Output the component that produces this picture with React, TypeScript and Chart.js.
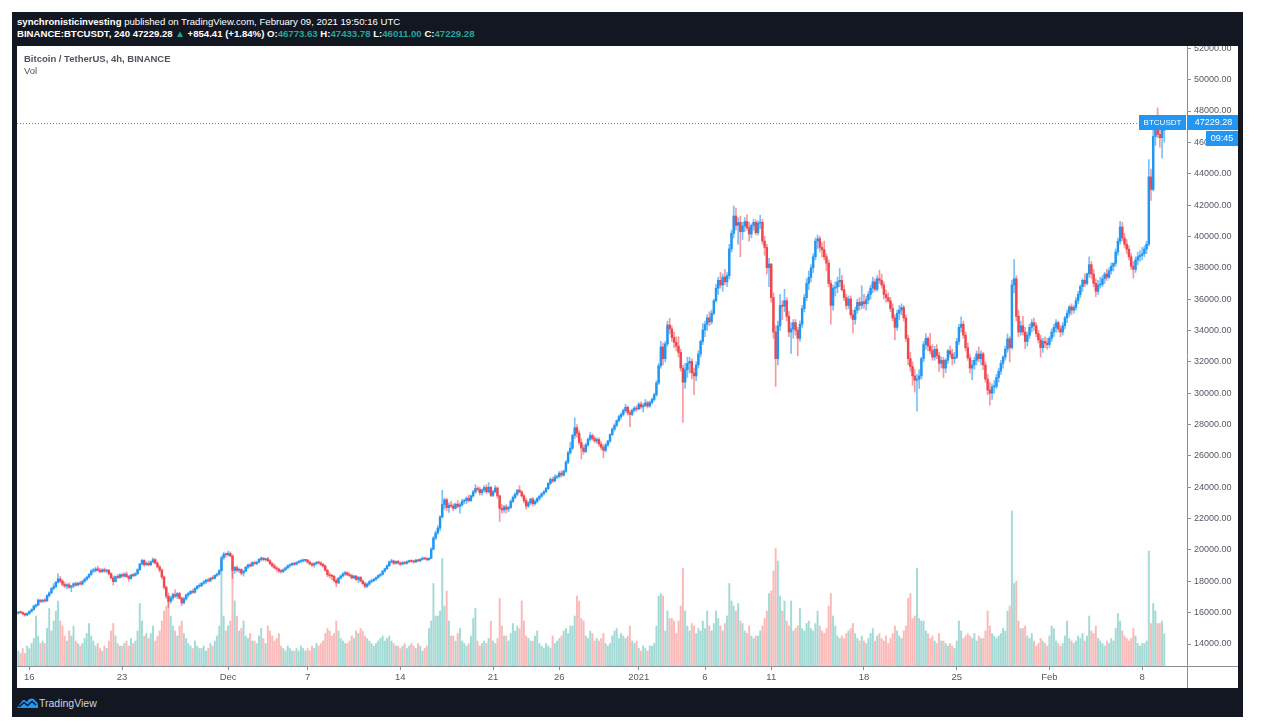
import React, { useEffect, useRef } from "react";
import { Chart, registerables } from "chart.js";

Chart.register(...registerables);

// 4h candles [open, high, low, close], BINANCE:BTCUSDT, from Nov 15 04:00 to Feb 9 16:00 (UTC)
const candlesNov: number[][] = [
  [15960,16080,15900,16030],[16030,16100,15960,16010],[16010,16040,15870,15920],[15920,15980,15780,15850],[15850,15990,15800,15960],
  [15960,16120,15870,16080],[16080,16250,16020,16190],[16190,16490,16150,16420],[16420,16540,16300,16480],[16480,16880,16450,16800],[16800,16850,16620,16720],
  [16720,16850,16650,16790],[16790,16900,16680,16750],[16750,17150,16720,17080],[17080,17330,17000,17260],[17260,17600,17200,17540],[17540,17860,17450,17660],
  [17660,18000,17600,17930],[17930,18480,17880,18150],[18150,18300,17900,18010],[18010,18100,17700,17800],[17800,17950,17600,17700],[17700,17850,17520,17780],
  [17780,17900,17550,17620],[17620,17750,17340,17700],[17700,17900,17600,17850],[17850,17950,17680,17760],[17760,17940,17700,17880],[17880,18000,17780,17820],
  [17820,18050,17750,17990],[17990,18200,17930,18130],[18130,18320,18050,18260],[18260,18500,18200,18430],[18430,18750,18380,18650],[18650,18820,18550,18680],
  [18680,18900,18600,18790],[18790,18960,18650,18700],[18700,18820,18550,18620],[18620,18800,18560,18740],[18740,18850,18580,18650],[18650,18780,18550,18700],
  [18700,18760,18400,18480],[18480,18550,18150,18220],[18220,18350,17750,17980],[17980,18350,17950,18300],[18300,18420,18150,18250],[18250,18480,18180,18420],
  [18420,18500,18250,18330],[18330,18550,18280,18460],[18460,18600,18250,18300],[18300,18380,18000,18180],[18180,18450,18120,18400],[18400,18500,18280,18370],
  [18370,18560,18320,18480],[18480,18800,18430,18740],[18740,19150,18700,19100],[19100,19420,19050,19330],[19330,19380,18950,19060],[19060,19250,19000,19150],
  [19150,19300,18980,19050],[19050,19300,19000,19240],[19240,19490,19180,19380],[19380,19450,19100,19160],[19160,19250,18850,18920],[18920,19000,18580,18720],
  [18720,18800,18150,18280],[18280,18350,17500,17620],[17620,17700,16900,17050],[17050,17250,16330,16720],[16720,17050,16600,16930],[16930,17250,16800,17150],
  [17150,17450,16950,17060],[17060,17280,16900,17220],[17220,17300,16850,16930],[16930,17000,16440,16620],[16620,16980,16550,16880],[16880,17180,16800,17130],
  [17130,17300,17000,17220],[17220,17420,17150,17360],[17360,17500,17220,17300],[17300,17600,17250,17540],[17540,17750,17480,17680],[17680,17850,17600,17720],
  [17720,17920,17650,17880],[17880,18050,17800,17960],[17960,18120,17850,18080],[18080,18200,17950,18020],[18020,18250,17980,18190],[18190,18350,18100,18180],
  [18180,18420,18150,18380],[18380,18520,18300,18460],[18460,18750,18400,18680],[18680,19600,18650,19500],[19500,19860,19400,19720],[19720,19800,19550,19700],
];

const candlesDec: number[][] = [
  [19700,19920,19600,19780],[19780,19880,19550,19620],[19620,19700,18180,18700],[18700,18950,18500,18880],[18880,19000,18600,18700],[18700,18850,18550,18760],
  [18760,18800,18400,18520],[18520,18700,18330,18650],[18650,18950,18600,18900],[18900,19100,18800,19050],[19050,19150,18900,18980],[18980,19250,18950,19200],
  [19200,19300,19050,19130],[19130,19280,19050,19220],[19220,19450,19180,19400],[19400,19560,19300,19480],[19480,19520,19300,19380],[19380,19480,19280,19440],
  [19440,19530,19250,19310],[19310,19380,19050,19120],[19120,19200,18900,18980],[18980,19100,18800,18850],[18850,18950,18650,18780],[18780,18850,18570,18650],
  [18650,18750,18500,18620],[18620,18800,18560,18740],[18740,18900,18680,18860],[18860,19050,18800,18990],[18990,19100,18900,19060],[19060,19180,18980,19150],
  [19150,19220,19000,19080],[19080,19250,19050,19200],[19200,19330,19150,19260],[19260,19380,19180,19300],[19300,19420,19230,19340],[19340,19400,19250,19360],
  [19360,19390,19150,19220],[19220,19300,19050,19110],[19110,19200,18950,19030],[19030,19180,18900,19140],[19140,19260,19050,19200],[19200,19280,19100,19170],
  [19170,19250,19000,19080],[19080,19150,18900,18970],[18970,19050,18650,18700],[18700,18780,18300,18420],[18420,18550,18200,18350],[18350,18450,18100,18320],
  [18320,18380,17950,18050],[18050,18150,17650,17900],[17900,18250,17850,18200],[18200,18400,18150,18340],[18340,18550,18280,18470],[18470,18630,18380,18550],
  [18550,18600,18350,18420],[18420,18520,18280,18360],[18360,18450,18150,18220],[18220,18400,18150,18330],[18330,18380,18050,18120],[18120,18300,17910,18260],
  [18260,18300,17950,18020],[18020,18100,17780,17850],[17850,17950,17570,17680],[17680,17900,17600,17820],[17820,18050,17750,17980],[17980,18150,17900,18040],
  [18040,18200,17980,18130],[18130,18280,18050,18240],[18240,18420,18180,18370],[18370,18500,18300,18440],[18440,18700,18400,18650],[18650,18850,18580,18800],
  [18800,19050,18750,18990],[18990,19300,18950,19230],[19230,19410,19150,19300],[19300,19350,19080,19150],[19150,19300,19100,19260],[19260,19330,19100,19170],
  [19170,19250,19000,19090],[19090,19250,19050,19200],[19200,19280,19080,19140],[19140,19300,19100,19250],[19250,19350,19180,19310],[19310,19380,19220,19270],
  [19270,19350,19150,19230],[19230,19400,19200,19350],[19350,19420,19250,19300],[19300,19450,19250,19400],[19400,19570,19350,19460],[19460,19520,19380,19440],
  [19440,19500,19300,19380],[19380,19520,19330,19470],[19470,20150,19450,20050],[20050,20850,20000,20760],[20760,21200,20650,21080],[21080,21560,21000,21400],
  [21400,22200,21230,22100],[22100,23800,22050,22900],[22900,23300,22600,23200],[23200,23300,22500,22700],[22700,23000,22400,22850],[22850,23100,22700,22800],
  [22800,22950,22500,22650],[22650,23000,22600,22920],[22920,23150,22700,22780],[22780,23000,22350,22880],[22880,23250,22800,23100],[23100,23250,22950,23140],
  [23140,23400,22950,23300],[23300,23500,23050,23150],[23150,23500,23100,23450],[23450,23800,23350,23700],[23700,24170,23600,23920],[23920,24050,23750,23870],
  [23870,24000,23500,23650],[23650,23900,23500,23820],[23820,24100,23700,23980],[23980,24150,23600,23700],[23700,24300,23650,24000],[24000,24050,23400,23480],
  [23480,23800,23400,23720],[23720,24100,23650,23950],[23950,24020,23300,23450],[23450,23500,21815,22650],[22650,22900,22350,22550],[22550,22850,22400,22745],
  [22745,22900,22350,22600],[22600,22800,22450,22700],[22700,23200,22650,23100],[23100,23450,23000,23350],[23350,23650,23250,23560],[23560,23850,23450,23820],
  [23820,24100,23650,23700],[23700,23780,23350,23450],[23450,23550,23000,23150],[23150,23300,22600,22800],[22800,23100,22700,23000],[23000,23300,22900,23250],
  [23250,23350,22800,22950],[22950,23200,22850,23100],[23100,23350,23000,23280],[23280,23500,23150,23420],[23420,23650,23350,23580],[23580,23780,23500,23715],
  [23715,24000,23650,23920],[23920,24300,23850,24250],[24250,24600,24150,24500],[24500,24650,24300,24400],[24400,24790,24350,24650],[24650,24780,24550,24690],
  [24690,25000,24600,24900],[24900,25050,24650,24780],[24780,25100,24700,25020],[25020,25700,24950,25600],[25600,26300,25500,26200],[26200,26870,26100,26490],
  [26490,27400,26400,27300],[27300,28420,27100,27800],[27800,28000,27200,27450],[27450,27600,26700,26850],[26850,27100,25800,26500],[26500,26700,26100,26280],
  [26280,26800,26200,26700],[26700,27150,26600,27050],[27050,27500,26950,27300],[27300,27400,27000,27100],[27100,27250,26850,26950],[26950,27150,26800,27040],
  [27040,27150,26600,26750],[26750,26900,26400,26550],[26550,26700,25880,26350],[26350,26800,26250,26700],[26700,27000,26600,26950],[26950,27400,26850,27360],
  [27360,27800,27300,27700],[27700,28050,27600,27950],[27950,28300,27850,28250],[28250,28600,28150,28500],[28500,28750,28350,28650],[28650,28990,28550,28890],
  [28890,29300,28800,29100],[29100,29200,28600,28750],[28750,28900,27850,28650],[28650,29000,28550,28900],[28900,29150,28800,29050],[29050,29200,28850,28990],
];

const candlesJan: number[][] = [
  [28990,29400,28950,29300],[29300,29450,29000,29120],[29120,29350,28800,29200],[29200,29600,29150,29380],[29380,29500,29050,29180],[29180,29500,29100,29410],
  [29410,29700,29300,29600],[29600,30000,29500,29900],[29900,30800,29800,30650],[30650,31900,30550,31750],[31750,33300,31600,32950],[32950,33200,31800,32200],
  [32200,33300,32000,33150],[33150,34600,33000,34350],[34350,34780,33800,34100],[34100,34300,33300,33550],[33550,33900,32900,33250],[33250,33600,32700,33000],
  [33000,33600,32300,32600],[32600,32800,31400,31600],[31600,31800,28130,30700],[30700,31900,30300,31500],[31500,32300,31000,31900],[31900,32300,31300,32030],
  [32030,32200,30900,31300],[31300,31600,29900,31100],[31100,32000,30800,31800],[31800,32700,31600,32500],[32500,33400,32300,33300],[33300,34440,33100,34030],
  [34030,34600,33600,34400],[34400,35000,34000,34800],[34800,35200,34300,34550],[34550,35300,34400,35100],[35100,36000,35000,35900],[35900,36940,35800,36700],
  [36700,37400,36300,37200],[37200,37700,36700,36900],[36900,37600,36500,37400],[37400,37900,36900,37100],[37100,37700,36800,37500],[37500,39500,37300,39200],
  [39200,40400,39000,40200],[40200,41950,39900,41300],[41300,41800,40400,40700],[40700,41200,39500,40900],[40900,41300,38700,40300],[40300,40900,39800,40670],
  [40670,41200,40300,40950],[40950,41380,40400,40550],[40550,40900,39700,40150],[40150,40800,39900,40700],[40700,41100,40400,40900],[40900,41050,40100,40240],
  [40240,41000,40100,40850],[40850,41350,40500,40900],[40900,41100,39500,39700],[39700,40000,38800,39300],[39300,39500,37600,38000],[38000,38600,36800,38240],
  [38240,38260,35800,36100],[36100,36400,33500,33900],[33900,34300,30420,32200],[32200,34600,31800,34300],[34300,36300,34000,35600],[35600,35900,34700,35545],
  [35545,36630,35200,35900],[35900,36100,34600,34900],[34900,35200,33600,33900],[33900,34500,32530,34100],[34100,34700,33500,34500],[34500,34700,33700,34010],
  [34010,34200,32380,33500],[33500,34600,33300,34400],[34400,35600,34200,35400],[35400,36300,35200,36100],[36100,37300,35900,37000],[37000,37800,36600,37390],
  [37390,38200,37100,38000],[38000,38900,37700,38700],[38700,39900,38500,39700],[39700,40100,39200,39850],[39850,40000,39000,39300],[39300,39600,38700,39150],
  [39150,39700,38500,38700],[38700,38900,37800,38300],[38300,38500,36800,37000],[37000,37200,34408,35600],[35600,36900,35300,36700],[36700,37100,36200,36770],
  [36770,37400,36400,37100],[37100,37950,36800,37200],[37200,37500,36500,36600],[36600,36900,35900,36100],[36100,36300,35350,35600],[35600,36200,35400,36010],
  [36010,36200,34800,35000],[35000,35300,33850,34700],[34700,35500,34400,35300],[35300,36000,35100,35800],[35800,36100,35300,35600],[35600,36850,35400,35830],
  [35830,36300,35400,35700],[35700,36200,35300,35950],[35950,36500,35700,36300],[36300,36900,36000,36700],[36700,37400,36400,37100],[37100,37300,36500,36630],
  [36630,37500,36500,37300],[37300,37850,37000,37200],[37200,37600,36700,36900],[36900,37100,36000,36300],[36300,36600,35800,36100],[36100,36400,35800,35890],
  [35890,36100,35200,35400],[35400,35700,34600,34800],[34800,35000,33400,34200],[34200,35300,34000,35100],[35100,35600,34700,35300],[35300,35700,35000,35470],
  [35470,35600,34600,34800],[34800,35000,33300,33500],[33500,33700,31800,32200],[32200,32600,31400,31700],[31700,32000,30500,31100],[31100,31500,30070,30830],
  [30830,31200,28850,30900],[30900,31500,30300,31100],[31100,32300,30900,32200],[32200,33300,32000,33100],[33100,33800,32800,33500],[33500,33600,32700,33000],
  [33000,33830,32500,32700],[32700,33100,32100,32300],[32300,33000,32100,32800],[32800,33100,32200,32400],[32400,32600,31390,31900],[31900,32300,31600,32100],
  [32100,32300,31000,31600],[31600,32200,31300,32100],[32100,32800,31900,32700],[32700,33000,32300,32500],[32500,32800,31800,32200],[32200,32600,31900,32290],
  [32290,33500,32200,33300],[33300,34400,33100,34200],[34200,34875,33900,34400],[34400,34600,33500,33700],[33700,33900,32700,32900],[32900,33200,32100,32250],
  [32250,32500,31300,31600],[31600,32100,30840,31800],[31800,32300,31500,32100],[32100,32700,31800,32500],[32500,32950,32000,32200],[32200,32700,31800,32510],
  [32510,32600,31500,31800],[31800,32000,30700,30900],[30900,31200,29900,30200],[30200,30700,29240,30000],[30000,30600,29600,30400],[30400,30800,30000,30430],
  [30430,31200,30300,31000],[31000,31600,30700,31400],[31400,32100,31200,31900],[31900,32400,31600,32300],[32300,33000,32100,32800],[32800,33780,32600,33470],
  [33470,33600,31990,32900],[32900,37200,32800,36900],[36900,38530,36400,37300],[37300,37500,34600,34900],[34900,35300,33600,33900],[33900,34600,33700,34300],
  [34300,34900,33700,33900],[33900,34200,32840,33300],[33300,33900,33000,33700],[33700,34400,33500,34200],[34200,34700,33900,34500],[34500,34800,34000,34300],
  [34300,34500,33600,33800],[33800,34000,33200,33400],[33400,33700,32300,32900],[32900,33500,32600,33300],[33300,33600,32900,33200],[33200,33500,32800,33100],
];

const candlesFeb: number[][] = [
  [33100,33600,32900,33500],[33500,34100,33300,33900],[33900,34400,33600,34200],[34200,34700,33900,34500],[34500,34600,33900,34100],[34100,34300,33600,33900],
  [33900,34500,33700,34300],[34300,34900,34100,34800],[34800,35300,34500,35100],[35100,35600,34900,35500],[35500,35700,35000,35300],[35300,35600,35100,35470],
  [35470,36100,35300,35900],[35900,36500,35700,36300],[36300,36900,36100,36800],[36800,37300,36500,37200],[37200,37600,36800,37000],[37000,37660,36900,37620],
  [37620,38700,37400,38200],[38200,38400,37300,37600],[37600,37900,36800,37000],[37000,37300,36160,36500],[36500,37200,36300,36900],[36900,37400,36700,36940],
  [36940,37500,36800,37300],[37300,37700,37000,37600],[37600,37900,37200,37400],[37400,38000,37300,37800],[37800,38300,37600,38100],[38100,38310,37800,38290],
  [38290,39200,38100,39000],[39000,39900,38800,39700],[39700,40955,39500,40600],[40600,40900,39700,39900],[39900,40200,39300,39500],[39500,39800,38900,39186],
  [39186,39400,38500,38700],[38700,38900,37900,38100],[38100,38400,37350,37900],[37900,38700,37700,38500],[38500,39000,38200,38700],[38700,39100,38400,38795],
  [38795,39300,38500,38900],[38900,39400,38700,39200],[39200,39700,38900,39500],[39500,44900,39400,43800],[43800,44300,42300,43000],[43000,46794,42900,46374],
  [46374,47400,45800,46900],[46900,48200,46300,46500],[46500,47300,45700,46300],[46300,47200,45000,46773.63],[46773.63,47433.78,46011,47229.28],
];

// volume per 4h candle, thousand BTC
const volumeNov: number[] = [
  6,5,7,5,8, 7,9,11,20,12,9, 10,9,15,23,14,18, 22,26,18,16,12,10, 14,12,16,10,9,8, 9,11,13,17,12,10,
  8,9,7,6,8,7, 10,14,17,12,9,8, 8,9,10,8,11,9, 10,14,25,18,12,13, 11,13,16,10,12,14, 18,22,24,26,20,16,
  14,12,16,18,13,11, 9,8,7,10,8,7, 7,8,6,7,9,8, 10,12,16,42,20,14,
];
const volumeDec: number[] = [
  16,18,40,26,20,14, 15,18,12,11,13,10, 10,9,12,15,11,9, 16,14,12,10,11,13, 8,7,6,8,7,6, 6,7,6,8,7,6,
  7,6,8,7,9,8, 9,10,13,15,14,12, 13,18,14,11,10,9, 9,10,12,11,14,13, 15,14,12,11,10,9, 8,9,10,11,12,10,
  11,12,10,9,8,8, 7,8,9,7,8,9, 8,7,9,8,6,7, 8,15,18,33,20,20, 22,43,24,30,18,12, 12,10,13,15,10,9,
  8,9,12,19,23,10, 8,9,10,9,11,18, 10,9,11,27,16,12, 12,10,13,17,14,16, 15,26,18,12,11,10, 10,12,14,9,8,7,
  9,8,7,12,9,10, 11,12,14,15,13,16, 16,20,28,26,19,18, 12,11,14,13,10,11, 10,11,13,9,8,9, 12,14,15,11,13,12,
  11,12,16,10,9,10,
];
const volumeJan: number[] = [
  7,6,8,7,6,8, 8,9,16,28,29,28, 14,22,19,19,18,13, 18,24,39,22,16,14, 17,16,13,15,14,18, 15,22,16,14,17,22,
  19,16,14,17,20,33, 26,24,22,25,18,17, 14,13,16,12,11,12, 12,14,16,19,22,29, 30,38,47,42,28,22, 26,18,16,26,14,15,
  16,23,15,14,17,18, 15,14,17,22,16,14, 13,15,24,29,20,16, 12,11,12,11,13,14, 15,17,13,11,10,12, 10,9,11,13,15,10,
  12,13,11,10,12,9, 11,13,16,14,12,11, 14,16,27,29,19,20, 39,19,18,18,14,13, 11,12,10,9,13,10, 10,9,8,9,8,7,
  10,18,14,11,12,13, 12,11,13,10,12,11, 11,14,22,16,13,12, 11,12,13,15,14,22, 24,62,33,34,18,15, 15,16,12,11,13,10,
  8,9,11,10,9,8,
];
const volumeFeb: number[] = [
  12,16,15,10,9,8, 9,12,18,11,10,9, 10,12,11,13,10,12, 20,14,13,16,11,10, 9,8,10,9,11,10, 15,21,18,14,12,11,
  10,11,15,12,9,8, 9,9,10,46,17,25, 22,17,17,18,13,
];

// candle index of each date label on the time axis
const dateTickIndex: number[] = [5, 47, 95, 131, 173, 215, 245, 281, 311, 341, 383, 425, 467, 509];
const dateTickLabels: string[] = ["16", "23", "Dec", "7", "14", "21", "26", "2021", "6", "11", "18", "25", "Feb", "8"];
const priceTicks: number[] = [14000, 16000, 18000, 20000, 22000, 24000, 26000, 28000, 30000, 32000, 34000, 36000, 38000, 40000, 42000, 44000, 46000, 48000, 50000, 52000];

const priceMin = 12597;
const priceMax = 52147;
const volumeAxisMax = 248;
const lastPrice = 47229.28;
const symbolName = "BTCUSDT";
const countdown = "09:45";

const UP = "#2196f3";
const DOWN = "#f0464e";
const UP_WICK = "rgba(33,150,243,0.6)";
const DOWN_WICK = "rgba(240,70,78,0.55)";
const UP_VOL = "rgba(38,166,154,0.42)";
const DOWN_VOL = "rgba(239,83,80,0.4)";
const AXIS = "#8c8f98";
const TICK_TEXT = "#555965";
const FONT = "'Liberation Sans', Arial, sans-serif";

const candles = [...candlesNov, ...candlesDec, ...candlesJan, ...candlesFeb];
const volumes = [...volumeNov, ...volumeDec, ...volumeJan, ...volumeFeb];

const noPadding = (s: any) => {
  s.paddingTop = 0;
  s.paddingBottom = 0;
  s.paddingLeft = 0;
  s.paddingRight = 0;
};

const overlayPlugin = {
  id: "tvOverlay",
  afterDraw(chart: any) {
    const { ctx, chartArea: ca, scales } = chart;
    const W = chart.width;
    const H = chart.height;
    const y = Math.round(scales.y.getPixelForValue(lastPrice));
    ctx.save();
    ctx.strokeStyle = AXIS;
    ctx.lineWidth = 1;
    ctx.beginPath();
    ctx.moveTo(ca.right, ca.bottom + 0.5);
    ctx.lineTo(W, ca.bottom + 0.5);
    ctx.moveTo(ca.right + 0.5, ca.bottom);
    ctx.lineTo(ca.right + 0.5, H);
    ctx.stroke();
    const boxW = 47;
    ctx.strokeStyle = UP;
    ctx.setLineDash([1, 2]);
    ctx.beginPath();
    ctx.moveTo(ca.left, y + 0.5);
    ctx.lineTo(ca.right - boxW, y + 0.5);
    ctx.stroke();
    ctx.setLineDash([]);
    ctx.fillStyle = UP;
    ctx.fillRect(ca.right - boxW - 1, y - 8, boxW, 15);
    ctx.fillRect(ca.right, y - 8, W - ca.right, 15);
    ctx.fillRect(W - 32, y + 8, 32, 15);
    ctx.fillStyle = "#ffffff";
    ctx.textBaseline = "middle";
    ctx.textAlign = "center";
    ctx.font = `8px ${FONT}`;
    ctx.fillText(symbolName, ca.right - boxW / 2 - 1, y);
    ctx.font = `9px ${FONT}`;
    ctx.fillText(lastPrice.toFixed(2), ca.right + (W - ca.right) / 2 + 1, y);
    ctx.fillText(countdown, W - 16, y + 16);
    ctx.restore();
  },
};

function Logo() {
  return (
    <svg width="21" height="10" viewBox="0 0 21 10" style={{ position: "absolute", left: 17, top: 698 }}>
      <path d="M0 10 L5 3 Q6 1.5 7.5 2 L10 4 Q11 1 14 0.6 Q17 0.4 18.5 3 Q21 4 21 7 L21 10 Z" fill="#2196f3" />
      <polyline points="2,9 7,4.5 10.5,7.5 15,3.5 19,7" fill="none" stroke="#131722" strokeWidth="1.4" />
    </svg>
  );
}

export default function App() {
  const canvasRef = useRef<HTMLCanvasElement>(null);

  useEffect(() => {
    const canvas = canvasRef.current;
    if (!canvas) return;
    const chart = new Chart(canvas, {
      type: "bar",
      data: {
        datasets: [
          {
            label: "body",
            data: candles.map((c, i) => ({ x: i, y: [c[0], c[3]] })) as any,
            backgroundColor: candles.map((c) => (c[3] >= c[0] ? UP : DOWN)),
            barThickness: 1.8,
            minBarLength: 1,
            borderWidth: 0,
            grouped: false,
            yAxisID: "y",
            order: 0,
          } as any,
          {
            label: "wick",
            data: candles.map((c, i) => ({ x: i, y: [c[2], c[1]] })) as any,
            backgroundColor: candles.map((c) => (c[3] >= c[0] ? UP_WICK : DOWN_WICK)),
            barThickness: 1,
            borderWidth: 0,
            grouped: false,
            yAxisID: "y",
            order: 1,
          } as any,
          {
            label: "Vol",
            data: volumes.map((v, i) => ({ x: i, y: v })) as any,
            backgroundColor: candles.map((c) => (c[3] >= c[0] ? UP_VOL : DOWN_VOL)),
            barThickness: 1.3,
            borderWidth: 0,
            grouped: false,
            yAxisID: "yVol",
            order: 2,
          } as any,
        ],
      },
      options: {
        animation: false,
        responsive: false,
        events: [],
        layout: { padding: 0, autoPadding: false } as any,
        plugins: { legend: { display: false }, tooltip: { enabled: false } },
        scales: {
          x: {
            type: "linear",
            position: "bottom",
            offset: false,
            min: -0.6,
            max: 529.3,
            afterBuildTicks: (s: any) => {
              s.ticks = dateTickIndex.map((v) => ({ value: v }));
            },
            afterFit: (s: any) => {
              s.height = 22;
              noPadding(s);
            },
            ticks: {
              autoSkip: false,
              maxRotation: 0,
              padding: 2,
              color: TICK_TEXT,
              font: { family: FONT, size: 9.5 },
              callback: (v: any) => {
                const k = dateTickIndex.indexOf(Number(v));
                return k >= 0 ? dateTickLabels[k] : "";
              },
            },
            grid: { offset: false, drawOnChartArea: false, drawTicks: true, tickLength: 4, color: AXIS },
            border: { display: true, color: AXIS },
          } as any,
          y: {
            type: "linear",
            position: "right",
            min: priceMin,
            max: priceMax,
            afterBuildTicks: (s: any) => {
              s.ticks = priceTicks.map((v) => ({ value: v }));
            },
            afterFit: (s: any) => {
              s.width = 51;
              noPadding(s);
            },
            ticks: {
              padding: 3,
              color: TICK_TEXT,
              font: { family: FONT, size: 9 },
              callback: (v: any) => Number(v).toFixed(2),
            },
            grid: { drawOnChartArea: false, drawTicks: true, tickLength: 4, color: AXIS },
            border: { display: true, color: AXIS },
          } as any,
          yVol: {
            type: "linear",
            display: false,
            min: 0,
            max: volumeAxisMax,
          } as any,
        },
      },
      plugins: [overlayPlugin],
    });
    return () => chart.destroy();
  }, []);

  const teal = { color: "#26a69a" };
  return (
    <div style={{ position: "fixed", left: 0, top: 0, width: 1264, height: 728, background: "#ffffff", overflow: "hidden", fontFamily: FONT }}>
      <div style={{ position: "absolute", left: 12, top: 12, width: 1231, height: 705, background: "#131722" }} />
      <div style={{ position: "absolute", left: 17, top: 16, color: "#ffffff", fontSize: 9.6, lineHeight: "12px", whiteSpace: "nowrap" }}>
        <div>
          <b>synchronisticinvesting</b> published on TradingView.com, February 09, 2021 19:50:16 UTC
        </div>
        <div style={{ fontWeight: "bold" }}>
          BINANCE:BTCUSDT, 240 47229.28 <span style={teal}>▲</span> +854.41 (+1.84%) O:<span style={teal}>46773.63</span> H:
          <span style={teal}>47433.78</span> L:<span style={teal}>46011.00</span> C:<span style={teal}>47229.28</span>
        </div>
      </div>
      <div style={{ position: "absolute", left: 17, top: 46, width: 1221, height: 642, background: "#ffffff" }}>
        <canvas ref={canvasRef} width={1221} height={642} style={{ display: "block", width: 1221, height: 642 }} />
        <div style={{ position: "absolute", left: 7, top: 7, fontSize: 9.5, lineHeight: "12px", color: "#50535e" }}>
          <div style={{ fontWeight: "bold" }}>Bitcoin / TetherUS, 4h, BINANCE</div>
          <div>Vol</div>
        </div>
      </div>
      <Logo />
      <div style={{ position: "absolute", left: 39, top: 696, fontSize: 10.5, lineHeight: "14px", color: "#d1d4dc" }}>TradingView</div>
    </div>
  );
}
